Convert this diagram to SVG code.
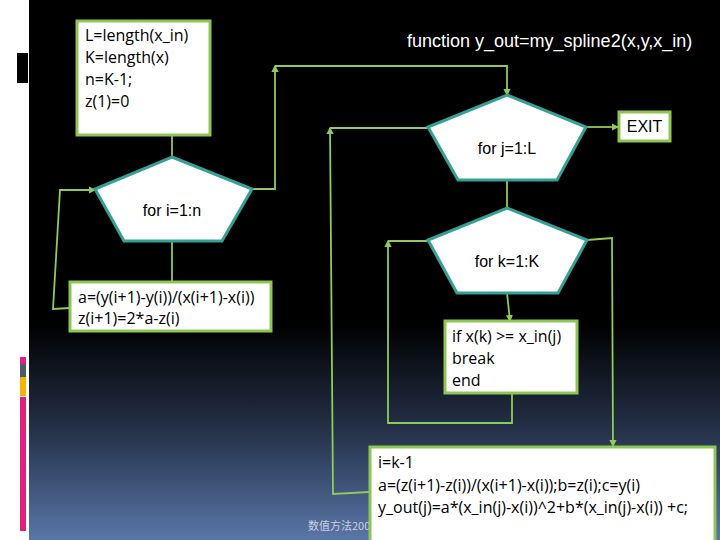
<svg xmlns="http://www.w3.org/2000/svg" width="720" height="540" viewBox="0 0 720 540">
<defs>
<linearGradient id="bg" x1="0" y1="0" x2="0" y2="1">
<stop offset="0" stop-color="#000"/>
<stop offset="0.6" stop-color="#000"/>
<stop offset="0.8" stop-color="#25324a"/>
<stop offset="1" stop-color="#5a76a8"/>
</linearGradient>
<marker id="ar" viewBox="0 0 6 6" refX="5" refY="3" markerWidth="4" markerHeight="4" orient="auto">
<path d="M0,0 L6,3 L0,6 z" fill="#8fca5a"/>
</marker>
</defs>
<style>
.box{fill:#fff;stroke:#8dc653;stroke-width:3}
.pent{fill:#fff;stroke:#34a096;stroke-width:3}
.con{fill:none;stroke:#8fca5a;stroke-width:1.8}
.t{font-family:"Open Sans","Liberation Sans",sans-serif;font-size:16px;fill:#000}
.p{font-family:"Liberation Sans",Arial,sans-serif;font-size:16px;fill:#000}
</style>
<rect x="0" y="0" width="720" height="540" fill="#fff"/>
<rect x="29" y="0" width="691" height="540" fill="url(#bg)"/>
<rect x="17" y="53" width="11" height="30" fill="#000"/>
<rect x="20" y="357" width="6" height="7" fill="#e0207a"/>
<rect x="20" y="364" width="6" height="13" fill="#4a5a66"/>
<rect x="20" y="377" width="6" height="19" fill="#f5b400"/>
<rect x="20" y="397" width="6" height="134" fill="#e0207a"/>
<text x="308" y="530" font-family="'Noto Sans CJK SC',sans-serif" font-size="11" fill="#c8d0e0">数值方法2008</text>
<text x="407" y="47" font-family="'Liberation Sans',Arial,sans-serif" font-size="18" fill="#fff">function y_out=my_spline2(x,y,x_in)</text>
<g id="connectors">
<path class="con" d="M172,135 V157"/>
<path class="con" d="M172,241 V281"/>
<path class="con" d="M70,308 L53,309 L60,190 H95" marker-end="url(#ar)"/>
<path class="con" d="M252,189 H275 V66" marker-end="url(#ar)"/>
<path class="con" d="M275,66 H507 V95" marker-end="url(#ar)"/>
<path class="con" d="M586,127 H618" marker-end="url(#ar)"/>
<path class="con" d="M369,492 L333,494 L330,128" marker-end="url(#ar)"/>
<path class="con" d="M330,128 H428"/>
<path class="con" d="M507,180 V208"/>
<path class="con" d="M507,293 L510,321" marker-end="url(#ar)"/>
<path class="con" d="M512,393 V423 H388 V241" marker-end="url(#ar)"/>
<path class="con" d="M388,241 H428"/>
<path class="con" d="M587,240 L612,238 L613,446" marker-end="url(#ar)"/>
</g>
<g id="init">
<rect class="box" x="77" y="21" width="133" height="114"/>
<text class="t" x="85" y="41">L=length(x_in)</text>
<text class="t" x="85" y="63">K=length(x)</text>
<text class="t" x="85" y="85">n=K-1;</text>
<text class="t" x="85" y="107">z(1)=0</text>
</g>
<g id="loop_i">
<polygon class="pent" points="172,157 252,189 222,241 124,241 95,189"/>
<text class="p" x="172" y="216" text-anchor="middle">for i=1:n</text>
</g>
<g id="body_i">
<rect class="box" x="70" y="282" width="201" height="49"/>
<text class="t" x="78" y="303">a=(y(i+1)-y(i))/(x(i+1)-x(i))</text>
<text class="t" x="78" y="324">z(i+1)=2*a-z(i)</text>
</g>
<g id="loop_j">
<polygon class="pent" points="507,95 586,127 557,180 458,180 428,127"/>
<text class="p" x="507" y="154" text-anchor="middle">for j=1:L</text>
</g>
<g id="exit">
<rect class="box" x="619" y="112" width="51" height="29"/>
<text class="p" x="644.5" y="132" text-anchor="middle">EXIT</text>
</g>
<g id="loop_k">
<polygon class="pent" points="507,208 587,240 558,293 457,293 428,240"/>
<text class="p" x="507" y="267" text-anchor="middle">for k=1:K</text>
</g>
<g id="cond">
<rect class="box" x="445" y="321" width="132" height="72"/>
<text class="t" x="452" y="342">if  x(k) &gt;= x_in(j)</text>
<text class="t" x="452" y="364">break</text>
<text class="t" x="452" y="386">end</text>
</g>
<g id="eval">
<rect class="box" x="370" y="447" width="345" height="100"/>
<text class="t" x="378" y="468">i=k-1</text>
<text class="t" x="378" y="491">a=(z(i+1)-z(i))/(x(i+1)-x(i));b=z(i);c=y(i)</text>
<text class="t" x="378" y="513">y_out(j)=a*(x_in(j)-x(i))^2+b*(x_in(j)-x(i)) +c;</text>
</g>
</svg>
